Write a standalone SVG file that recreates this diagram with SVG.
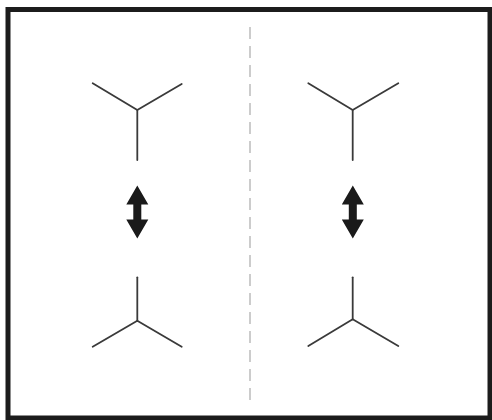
<svg xmlns="http://www.w3.org/2000/svg" width="492" height="420" viewBox="0 0 492 420">
<style>
.bond{fill:none;stroke:#3a3a3a;stroke-width:1.8;stroke-linecap:round;stroke-linejoin:round}
.arr{fill:#1a1a1a}
</style>
<defs>
<polygon id="dbl" class="arr" points="0,-26 11,-7 4,-7 4,8 11,8 0,27 -11,8 -4,8 -4,-7 -11,-7"/>
</defs>
<rect x="0" y="0" width="492" height="420" fill="#ffffff"/>
<rect x="8" y="9.5" width="482" height="408.5" fill="#ffffff" stroke="#1c1c1c" stroke-width="5"/>
<line x1="250" y1="27" x2="250" y2="400" stroke="#bcbcbc" stroke-width="1.5" stroke-dasharray="12,7"/>
<g id="left-top"><polyline class="bond" points="92.7,83.3 137.3,110 181.7,84"/><line class="bond" x1="137.3" y1="110" x2="137.3" y2="160"/></g>
<g id="left-bottom"><polyline class="bond" points="92.7,346.7 137.3,320.7 181.7,346.7"/><line class="bond" x1="137.3" y1="320.7" x2="137.3" y2="277.3"/></g>
<g id="right-top"><polyline class="bond" points="308.3,83.3 352.7,110 398.3,83.3"/><line class="bond" x1="352.7" y1="110" x2="352.7" y2="160"/></g>
<g id="right-bottom"><polyline class="bond" points="308.3,346 352.7,319.3 398.3,346"/><line class="bond" x1="352.7" y1="319.3" x2="352.7" y2="277.3"/></g>
<g id="connectors">
<use href="#dbl" x="137.3" y="211.5"/>
<use href="#dbl" x="352.8" y="211.5"/>
</g>
</svg>
